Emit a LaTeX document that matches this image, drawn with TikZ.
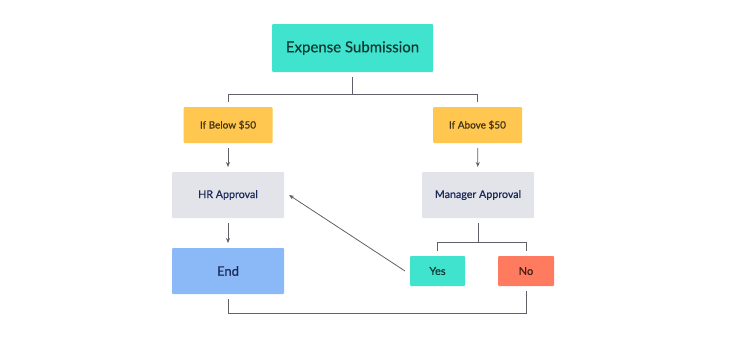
\documentclass[tikz,border=0pt]{standalone}
\usepackage{fontspec}
\setmainfont{Lato}[FakeBold=0.5]
\usetikzlibrary{arrows.meta}
\definecolor{teal1}{HTML}{40E3CD}
\definecolor{gold1}{HTML}{FFC74F}
\definecolor{grey1}{HTML}{E2E4E9}
\definecolor{blue1}{HTML}{8BB8F7}
\definecolor{coral1}{HTML}{FF7B5F}
\definecolor{navy1}{HTML}{1B2A5A}
\definecolor{wire}{HTML}{5F6068}
\begin{document}
\begin{tikzpicture}[x={(1pt,0pt)},y={(0pt,-1pt)},
  every node/.style={inner sep=0pt, outer sep=5pt, rounded corners=1pt},
  box/.style={minimum width=112pt, minimum height=46pt, fill=grey1, text=navy1, font=\fontsize{10.7}{12}\selectfont},
  cond/.style={minimum width=89pt, minimum height=36pt, fill=gold1, text=black!75!gold1, font=\fontsize{10}{12}\selectfont},
  answer/.style={minimum width=55pt, minimum height=30pt, font=\fontsize{11}{13}\selectfont},
  wire/.style={draw=wire, line width=0.8pt},
  arrow/.style={wire, -{Stealth[length=5pt,width=4pt]}}]

\useasboundingbox (0,0) rectangle (750,348);

\node[minimum width=161pt, minimum height=48pt, fill=teal1, text=black!75!teal1, font=\fontsize{15}{17}\selectfont] (sub) at (352.5,48) {Expense Submission};
\node[cond] (low) at (228,125) {If Below \$50};
\node[cond] (high) at (477.5,125) {If Above \$50};
\node[box] (hr) at (228,195) {HR Approval};
\node[box] (mgr) at (478,195) {Manager Approval};
\node[box, fill=blue1, font=\fontsize{13}{15}\selectfont] (done) at (228,271) {End};
\node[answer, fill=teal1, text=black!75!teal1] (yes) at (437.5,271) {Yes};
\node[answer, minimum width=56pt, fill=coral1, text=black!75!coral1] (no) at (526,271) {No};

\draw[wire] (sub.south) -- ++(0,17) -| (low.north);
\draw[wire] (sub.south) -- ++(0,17) -| (high.north);
\draw[arrow] (low) -- (hr);
\draw[arrow] (high) -- (mgr);
\draw[arrow] (hr) -- (done);
\draw[wire] (mgr.south) -- ++(0,19) -| (yes.north);
\draw[wire] (mgr.south) -- ++(0,19) -| (no.north);
\draw[arrow] (yes.west) -- (hr.east);
\draw[wire] (done.south) -- ++(0,14) -| (no.south);
\end{tikzpicture}
\end{document}
